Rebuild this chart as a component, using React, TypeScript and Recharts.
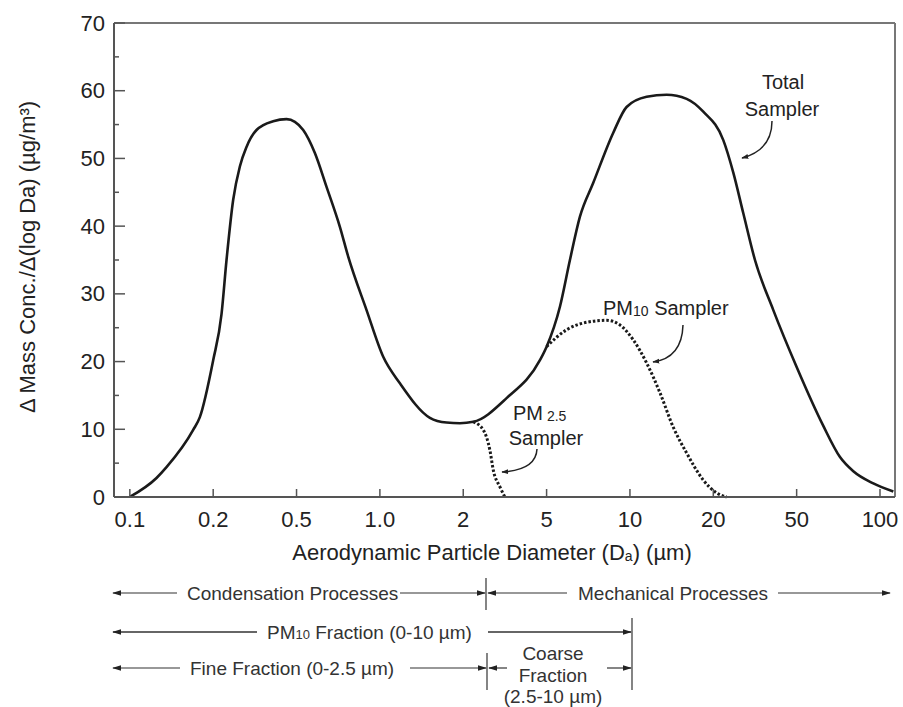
import React from 'react';
import { LineChart, Line, XAxis, YAxis, ReferenceLine } from 'recharts';

// ---- data (x is the position on the evenly spaced diameter scale: 0 = 0.1 µm ... 9 = 100 µm)
const xTickPositions = [0, 1, 2, 3, 4, 5, 6, 7, 8, 9];
const xTickLabels = ['0.1', '0.2', '0.5', '1.0', '2', '5', '10', '20', '50', '100'];
const yTicks = [0, 5, 10, 15, 20, 25, 30, 35, 40, 45, 50, 55, 60, 65, 70];

const totalX = [0, 0.32, 0.44, 0.76, 0.84, 1.0, 1.1, 1.16, 1.24, 1.32, 1.4, 1.52, 1.72, 1.88, 1.98, 2.08, 2.22, 2.36, 2.52, 2.62, 2.84, 3.04, 3.24, 3.6, 3.8, 3.96, 4.12, 4.52, 4.92, 5.0, 5.16, 5.28, 5.4, 5.56, 5.8, 5.96, 6.2, 6.44, 6.68, 6.88, 7.12, 7.24, 7.36, 7.5, 7.72, 8.0, 8.32, 8.52, 8.68, 8.92, 9.16];
const totalY = [0, 2.8, 4.4, 9.9, 11.8, 20.2, 27, 35, 43.9, 48.8, 51.7, 54.2, 55.5, 55.8, 55.4, 54.2, 50.8, 45.8, 39.9, 35.5, 27.6, 20.7, 16.8, 11.7, 11, 10.9, 11.1, 14.6, 20.2, 22.2, 28.1, 35, 41.4, 46.4, 53.8, 57.6, 59.1, 59.4, 58.8, 56.9, 52.7, 47.9, 41.9, 35, 27.6, 19.2, 10.5, 5.9, 3.8, 2, 0.8];

const pm10X = [5.0, 5.24, 5.48, 5.72, 5.88, 6.04, 6.2, 6.36, 6.52, 6.68, 6.88, 7.04, 7.16];
const pm10Y = [22.2, 24.7, 25.8, 26.1, 25.4, 23.2, 19.8, 15.4, 10.3, 6.5, 2.5, 0.6, 0];

const pm25X = [4.12, 4.24, 4.32, 4.36, 4.44, 4.5];
const pm25Y = [11.1, 9.9, 6.9, 4, 1.5, 0];

const X_MIN = -0.19;
const X_MAX = 9.18;
const Y_MAX = 70;

const rows = (xs: number[], ys: number[]) => xs.map((x, i) => ({ x, y: ys[i] }));
const totalData = rows(totalX, totalY);
const pm10Data = rows(pm10X, pm10Y);
const pm25Data = rows(pm25X, pm25Y);

const FONT = '"Liberation Sans", Arial, Helvetica, sans-serif';
const AXIS = '#555';
const INK = '#1a1a1a';

const YTick = (props: any) => {
  const { x, y, payload } = props;
  const ax = x + 9;
  const major = payload.value % 10 === 0;
  return (
    <g>
      <line x1={ax} x2={ax + (major ? 11 : 5)} y1={y} y2={y} stroke={AXIS} strokeWidth={1.5} />
      {major && (
        <text x={x} y={y} textAnchor="end" dominantBaseline="central" fontSize={22} fill="#222" fontFamily={FONT}>
          {payload.value}
        </text>
      )}
    </g>
  );
};

const XTick = (props: any) => {
  const { x, y, payload } = props;
  const idx = xTickPositions.indexOf(payload.value);
  return (
    <g>
      <line x1={x} x2={x} y1={y} y2={y - 8} stroke={AXIS} strokeWidth={1.5} />
      <text x={x} y={y + 22} textAnchor="middle" dominantBaseline="central" fontSize={22} fill="#222" fontFamily={FONT}>
        {idx >= 0 ? xTickLabels[idx] : ''}
      </text>
    </g>
  );
};

const Annotations = () => {
  const low = '#333';
  const fs = 19;
  return (
    <svg width={903} height={707} style={{ position: 'absolute', left: 0, top: 0, pointerEvents: 'none' }} fontFamily={FONT}>
      <defs>
        <marker id="ah" viewBox="0 0 10 10" refX="9" refY="5" markerWidth="7" markerHeight="7" orient="auto" markerUnits="userSpaceOnUse">
          <path d="M0,1.5 L10,5 L0,8.5 z" fill="#222" />
        </marker>
        <marker id="ah2" viewBox="0 0 10 10" refX="9" refY="5" markerWidth="9" markerHeight="9" orient="auto" markerUnits="userSpaceOnUse">
          <path d="M0,2 L10,5 L0,8 z" fill="#222" />
        </marker>
      </defs>

      {/* y axis title */}
      <text transform="translate(27,257) rotate(-90)" textAnchor="middle" dominantBaseline="central" fontSize={22} fill="#222">
        Δ Mass Conc./Δ(log Da) (µg/m³)
      </text>
      {/* x axis title */}
      <text x={492} y={552} textAnchor="middle" dominantBaseline="central" fontSize={22} fill="#222">
        Aerodynamic Particle Diameter (D<tspan fontSize={14} dy={4}>a</tspan><tspan dy={-4}>) (µm)</tspan>
      </text>

      {/* curve labels */}
      <text x={783} y={82} textAnchor="middle" dominantBaseline="central" fontSize={20} fill="#222">Total</text>
      <text x={782} y={109} textAnchor="middle" dominantBaseline="central" fontSize={20} fill="#222">Sampler</text>
      <path d="M772,121 Q772,150 742,158" fill="none" stroke="#222" strokeWidth={1.5} markerEnd="url(#ah)" />

      <text x={603} y={308} dominantBaseline="central" fontSize={20} fill="#222">
        PM<tspan fontSize={14} dy={3}>10</tspan><tspan dy={-3}> Sampler</tspan>
      </text>
      <path d="M683,325 Q682,358 653,362" fill="none" stroke="#222" strokeWidth={1.5} markerEnd="url(#ah)" />

      <text x={513} y={413} dominantBaseline="central" fontSize={20} fill="#222">
        PM<tspan fontSize={14} dy={3}> 2.5</tspan>
      </text>
      <text x={546} y={438} textAnchor="middle" dominantBaseline="central" fontSize={20} fill="#222">Sampler</text>
      <path d="M537,449 Q536,470 502,472" fill="none" stroke="#222" strokeWidth={1.5} markerEnd="url(#ah)" />

      {/* row 1 */}
      <line x1={177} y1={593} x2={113} y2={593} stroke={low} strokeWidth={1.2} markerEnd="url(#ah2)" />
      <text x={187} y={593} dominantBaseline="central" fontSize={fs} fill={low}>Condensation Processes</text>
      <line x1={400} y1={593} x2={485} y2={593} stroke={low} strokeWidth={1.2} markerEnd="url(#ah2)" />
      <line x1={486} y1={578} x2={486} y2={610} stroke={low} strokeWidth={1.2} />
      <line x1={567} y1={593} x2={488} y2={593} stroke={low} strokeWidth={1.2} markerEnd="url(#ah2)" />
      <text x={578} y={593} dominantBaseline="central" fontSize={fs} fill={low}>Mechanical Processes</text>
      <line x1={778} y1={593} x2={890} y2={593} stroke={low} strokeWidth={1.2} markerEnd="url(#ah2)" />

      {/* row 2 */}
      <line x1={257} y1={632} x2={113} y2={632} stroke={low} strokeWidth={1.6} markerEnd="url(#ah2)" />
      <text x={267} y={632} dominantBaseline="central" fontSize={fs} fill={low}>
        PM<tspan fontSize={13} dy={2}>10</tspan><tspan dy={-2}> Fraction (0-10 µm)</tspan>
      </text>
      <line x1={488} y1={632} x2={631} y2={632} stroke={low} strokeWidth={1.6} markerEnd="url(#ah2)" />
      <line x1={632} y1={618} x2={632} y2={690} stroke={low} strokeWidth={1.2} />

      {/* row 3 */}
      <line x1={180} y1={668} x2={113} y2={668} stroke={low} strokeWidth={1.2} markerEnd="url(#ah2)" />
      <text x={190} y={668} dominantBaseline="central" fontSize={fs} fill={low}>Fine Fraction (0-2.5 µm)</text>
      <line x1={410} y1={668} x2={486} y2={668} stroke={low} strokeWidth={1.2} markerEnd="url(#ah2)" />
      <line x1={487} y1={653} x2={487} y2={690} stroke={low} strokeWidth={1.2} />
      <line x1={507} y1={668} x2={489} y2={668} stroke={low} strokeWidth={1.2} markerEnd="url(#ah2)" />
      <text x={553} y={653} textAnchor="middle" dominantBaseline="central" fontSize={fs} fill={low}>Coarse</text>
      <text x={553} y={675} textAnchor="middle" dominantBaseline="central" fontSize={fs} fill={low}>Fraction</text>
      <text x={553} y={696} textAnchor="middle" dominantBaseline="central" fontSize={fs} fill={low}>(2.5-10 µm)</text>
      <line x1={607} y1={668} x2={631} y2={668} stroke={low} strokeWidth={1.2} markerEnd="url(#ah2)" />
    </svg>
  );
};

export default function App() {
  return (
    <div style={{ position: 'absolute', left: 0, top: 0, width: 903, height: 707, background: '#fff', fontFamily: FONT }}>
      <LineChart width={903} height={707} margin={{ top: 23, right: 8, left: 14, bottom: 170 }}>
        <XAxis
          dataKey="x"
          type="number"
          domain={[X_MIN, X_MAX]}
          allowDataOverflow
          ticks={xTickPositions}
          interval={0}
          tickSize={0}
          tickMargin={0}
          tickLine={false}
          tick={<XTick />}
          axisLine={{ stroke: AXIS, strokeWidth: 2 }}
          height={40}
        />
        <YAxis
          type="number"
          domain={[0, Y_MAX]}
          ticks={yTicks}
          interval={0}
          tickSize={0}
          tickMargin={9}
          tickLine={false}
          tick={<YTick />}
          axisLine={{ stroke: AXIS, strokeWidth: 2 }}
          width={100}
        />
        <ReferenceLine y={Y_MAX} stroke="#777" strokeWidth={2} />
        <ReferenceLine x={X_MAX} stroke="#777" strokeWidth={2} />
        <Line data={totalData} dataKey="y" type="monotone" stroke={INK} strokeWidth={2.6} dot={false} isAnimationActive={false} />
        <Line data={pm10Data} dataKey="y" type="monotone" stroke={INK} strokeWidth={3} strokeDasharray="2.5 2" dot={false} isAnimationActive={false} />
        <Line data={pm25Data} dataKey="y" type="monotone" stroke={INK} strokeWidth={3} strokeDasharray="2.5 2" dot={false} isAnimationActive={false} />
      </LineChart>
      <Annotations />
    </div>
  );
}
